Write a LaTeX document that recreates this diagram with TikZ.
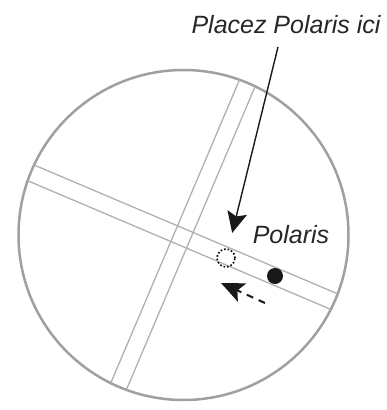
\documentclass[tikz,border=0pt]{standalone}
\usepackage{fontspec}
\setsansfont{Liberation Sans}
\usepackage{xcolor}
\definecolor{fieldgray}{HTML}{A0A0A0}
\definecolor{bandgray}{HTML}{B0B0B0}
\usepackage{tikz}
\usetikzlibrary{arrows.meta, positioning}

\begin{document}
\begin{tikzpicture}[x=1pt, y=-1pt,
  lbl/.style={font=\fontsize{25}{30}\selectfont\sffamily\itshape, text=black!85, inner sep=0pt},
  bandline/.style={bandgray, line width=1.3pt},
  pointer/.style={-{Stealth[length=21pt, width=20pt, inset=4pt]}, line width=1.4pt, black!90},
  drift/.style={-{Stealth[length=23pt, width=20pt, inset=5pt]}, line width=2pt, black!90, dash pattern=on 7pt off 6pt}]
\useasboundingbox (0,0) rectangle (386,410);

% Field of view
\def\cx{183.5}
\def\cy{235}
\def\rad{165}
\draw[fieldgray, line width=2.5pt] (\cx,\cy) circle[radius=\rad pt];

% Reticle bands
\begin{scope}
\clip (\cx,\cy) circle[radius=\rad pt];
\foreach \off in {-8.5,8.5} {
  \draw[bandline, shift={(182,237)}, rotate=-23] (-200,\off) -- (200,\off);
  \draw[bandline, shift={(182,237)}, rotate=-23] (\off,-200) -- (\off,200);
}
\end{scope}

% Labels
\node[lbl, anchor=base] (place) at (286,33) {Placez Polaris ici};
\node[lbl, anchor=base] (name) at (291,243) {Polaris};

% Star and its target position
\node[circle, draw, dotted, line width=1.6pt, minimum size=18pt, inner sep=0pt] (target) at (226,258) {};
\node[circle, fill=black!90, minimum size=16pt, inner sep=0pt] (star) at (275,276) {};

% Arrows
\coordinate (tail) at (278,47);
\draw[pointer, shorten >=16pt] (tail) -- (target);
\coordinate (drifttail) at (265,303);
\coordinate (drifttip) at (221,283);
\draw[drift] (drifttail) -- (drifttip);
\end{tikzpicture}
\end{document}
